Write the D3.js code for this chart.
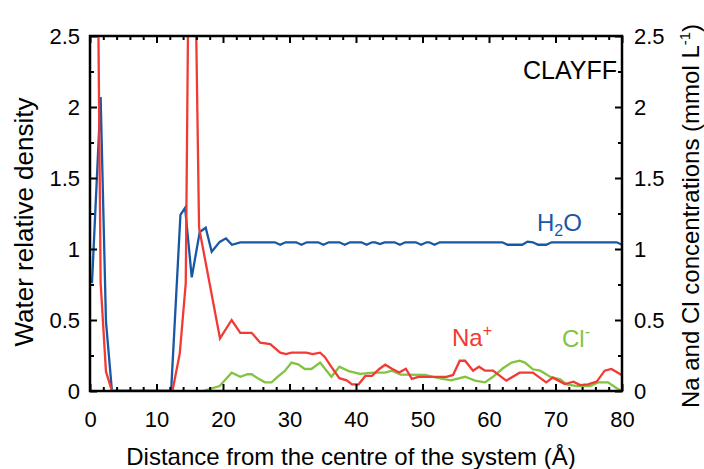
<!DOCTYPE html>
<html lang="en">
<head>
  <meta charset="utf-8" />
  <title>Water and ion profiles</title>
  <script src="https://cdn.jsdelivr.net/npm/d3@7"></script>
  <style>
    body { margin: 0; background: #fff; }
    text { font-family: Arial, "Liberation Sans", sans-serif; }
  </style>
</head>
<body>
  <script>
    // values: [distance (Å), value]
    var water = [[0.3,0.76],[1.6,2.07],[2.4,0.49],[3.3,0],[12.2,0],[13.6,1.24],[14.3,1.29],[15.3,0.80],
      [16.5,1.12],[17.4,1.15],[18.3,0.98],[19.5,1.05],[20.45,1.075],[21.35,1.03],[22.6,1.047],
      [27.8,1.047],[28.6,1.03],[29.4,1.047],[31.0,1.047],[31.8,1.03],[32.6,1.047],[34.3,1.047],
      [35.1,1.03],[35.9,1.047],[37.5,1.047],[38.3,1.03],[39.1,1.047],[40.8,1.047],[41.6,1.03],
      [42.4,1.047],[42.9,1.047],[43.6,1.035],[44.3,1.047],[45.8,1.047],[46.6,1.03],[47.4,1.047],
      [49.0,1.047],[49.8,1.03],[50.6,1.047],[51.0,1.047],[51.8,1.03],[52.6,1.047],[62.0,1.047],
      [62.8,1.03],[65.0,1.03],[65.8,1.052],[66.6,1.047],[67.4,1.03],[68.6,1.03],[69.4,1.047],
      [79.2,1.047],[80,1.03]];

    var sodium = [[0.8,5.0],[1.6,0.76],[2.4,0.136],[3.3,0],[12.4,0],[13.5,0.265],[14.4,0.76],[15.2,5.0],
      [16.4,1.15],[19.55,0.37],[21.3,0.50],[22.6,0.41],[24.3,0.41],[25.6,0.34],[27.1,0.33],[28.6,0.27],
      [29.5,0.26],[30.3,0.27],[32.5,0.27],[33.5,0.26],[34.6,0.27],[35.3,0.24],[36.3,0.17],[37.5,0.09],
      [38.6,0.075],[39.4,0.047],[40.4,0.047],[41.4,0.106],[42.4,0.106],[43.5,0.155],[44.4,0.185],
      [45.4,0.157],[46.5,0.13],[47.5,0.157],[48.4,0.086],[49.4,0.10],[53.6,0.10],[54.6,0.113],
      [55.6,0.213],[56.4,0.213],[57.6,0.143],[58.5,0.171],[59.4,0.143],[60.6,0.143],[62.6,0.073],
      [64.6,0.129],[66.6,0.129],[68.6,0.061],[69.6,0.094],[71.4,0.049],[72.7,0.066],[73.7,0.042],
      [74.9,0.047],[76.2,0.066],[77.4,0.143],[78.4,0.155],[79.7,0.12],[80,0.11]];

    var chloride = [[17.0,0],[17.8,0.012],[19.5,0.035],[20.55,0.09],[21.3,0.129],[22.6,0.10],[23.7,0.118],
      [24.3,0.118],[25.5,0.082],[26.3,0.061],[27.3,0.061],[28.2,0.10],[29.3,0.141],[30.3,0.20],
      [31.3,0.188],[32.3,0.155],[33.3,0.155],[34.6,0.20],[36.3,0.10],[37.5,0.171],[38.9,0.14],
      [40.6,0.12],[42.6,0.129],[44.4,0.129],[45.4,0.143],[46.7,0.115],[50.4,0.113],[51.6,0.10],
      [52.6,0.089],[54.3,0.075],[56.4,0.10],[57.9,0.073],[59.4,0.061],[60.6,0.10],[62.1,0.16],
      [63.4,0.20],[64.6,0.213],[65.4,0.20],[66.6,0.153],[67.7,0.143],[69.2,0.10],[70.7,0.082],
      [71.7,0.047],[73.2,0.035],[75.2,0.035],[76.4,0.061],[77.9,0.061],[79.2,0.019],[80,0]];

    var xMajor = [0, 10, 20, 30, 40, 50, 60, 70, 80];
    var xMinor = [2, 4, 6, 8, 12, 14, 16, 18, 22, 24, 26, 28, 32, 34, 36, 38, 42, 44, 46, 48,
      52, 54, 56, 58, 62, 64, 66, 68, 72, 74, 76, 78];
    var yMajor = [0, 0.5, 1, 1.5, 2, 2.5];
    var yMinor = [0.25, 0.75, 1.25, 1.75, 2.25];

    var width = 704, height = 469;
    var margin = {left: 90, right: 82, top: 36, bottom: 78};

    var svg = d3.select("body").append("svg").attr("width", width).attr("height", height);

    var x = d3.scaleLinear().domain([0, 80]).range([margin.left, width - margin.right]);
    var y = d3.scaleLinear().domain([0, 2.5]).range([height - margin.bottom, margin.top]);

    svg.append("defs").append("clipPath").attr("id", "plot")
      .append("rect")
      .attr("x", x(0)).attr("y", y(2.5))
      .attr("width", x(80) - x(0)).attr("height", y(0) - y(2.5));

    var line = d3.line().x(function(d) { return x(d[0]); }).y(function(d) { return y(d[1]); });

    var lines = svg.append("g").attr("clip-path", "url(#plot)");
    lines.append("path").datum(water).attr("d", line)
      .attr("fill", "none").attr("stroke", "#1857a6").attr("stroke-width", 2.3);
    lines.append("path").datum(chloride).attr("d", line)
      .attr("fill", "none").attr("stroke", "#82c341").attr("stroke-width", 2.3);
    lines.append("path").datum(sodium).attr("d", line)
      .attr("fill", "none").attr("stroke", "#f23a34").attr("stroke-width", 2.3);

    // axes, ticks inward on all four sides
    function addAxis(axis, tx, ty) {
      var g = svg.append("g").attr("transform", "translate(" + tx + "," + ty + ")").call(axis);
      g.select(".domain").remove();
      g.selectAll("line").attr("stroke", "#000").attr("stroke-width", 2);
      g.selectAll("text").attr("font-size", 22).attr("fill", "#000")
        .style("font-family", "Arial, 'Liberation Sans', sans-serif");
      return g;
    }
    var fmt = function(d) { return d; };
    var noLabel = function() { return ""; };

    addAxis(d3.axisBottom(x).tickValues(xMajor).tickSize(-7).tickPadding(20).tickFormat(fmt), 0, y(0));
    addAxis(d3.axisBottom(x).tickValues(xMinor).tickSize(-4).tickFormat(noLabel), 0, y(0));
    addAxis(d3.axisTop(x).tickValues(xMajor).tickSize(-7).tickFormat(noLabel), 0, y(2.5));
    addAxis(d3.axisTop(x).tickValues(xMinor).tickSize(-4).tickFormat(noLabel), 0, y(2.5));
    addAxis(d3.axisLeft(y).tickValues(yMajor).tickSize(-7).tickPadding(10).tickFormat(fmt), x(0), 0);
    addAxis(d3.axisLeft(y).tickValues(yMinor).tickSize(-4).tickFormat(noLabel), x(0), 0);
    addAxis(d3.axisRight(y).tickValues(yMajor).tickSize(-7).tickPadding(12).tickFormat(fmt), x(80), 0);
    addAxis(d3.axisRight(y).tickValues(yMinor).tickSize(-4).tickFormat(noLabel), x(80), 0);

    svg.append("rect")
      .attr("x", x(0)).attr("y", y(2.5))
      .attr("width", x(80) - x(0)).attr("height", y(0) - y(2.5))
      .attr("fill", "none").attr("stroke", "#000").attr("stroke-width", 2.5);

    // axis titles
    svg.append("text")
      .attr("x", 351).attr("y", 465)
      .attr("text-anchor", "middle").attr("font-size", 24)
      .text("Distance from the centre of the system (Å)");

    svg.append("text")
      .attr("transform", "translate(33,222) rotate(-90)")
      .attr("text-anchor", "middle").attr("font-size", 26)
      .text("Water relative density");

    var right = svg.append("text")
      .attr("transform", "translate(699,216) rotate(-90)")
      .attr("text-anchor", "middle").attr("font-size", 24);
    right.append("tspan").text("Na and Cl concentrations (mmol L");
    right.append("tspan").attr("dy", -9).attr("font-size", 15).text("-1");
    right.append("tspan").attr("dy", 9).text(")");

    // labels in the plot
    svg.append("text")
      .attr("x", 617).attr("y", 79).attr("text-anchor", "end").attr("font-size", 25)
      .text("CLAYFF");

    var h2o = svg.append("text").attr("x", 537).attr("y", 231)
      .attr("font-size", 24).attr("fill", "#1857a6");
    h2o.append("tspan").text("H");
    h2o.append("tspan").attr("dy", 5).attr("font-size", 16).text("2");
    h2o.append("tspan").attr("dy", -5).text("O");

    var na = svg.append("text").attr("x", 452).attr("y", 346)
      .attr("font-size", 24).attr("fill", "#f23a34");
    na.append("tspan").text("Na");
    na.append("tspan").attr("dy", -10).attr("font-size", 16).text("+");

    var cl = svg.append("text").attr("x", 562).attr("y", 347)
      .attr("font-size", 24).attr("fill", "#82c341");
    cl.append("tspan").text("Cl");
    cl.append("tspan").attr("dy", -10).attr("font-size", 16).text("-");
  </script>
</body>
</html>
